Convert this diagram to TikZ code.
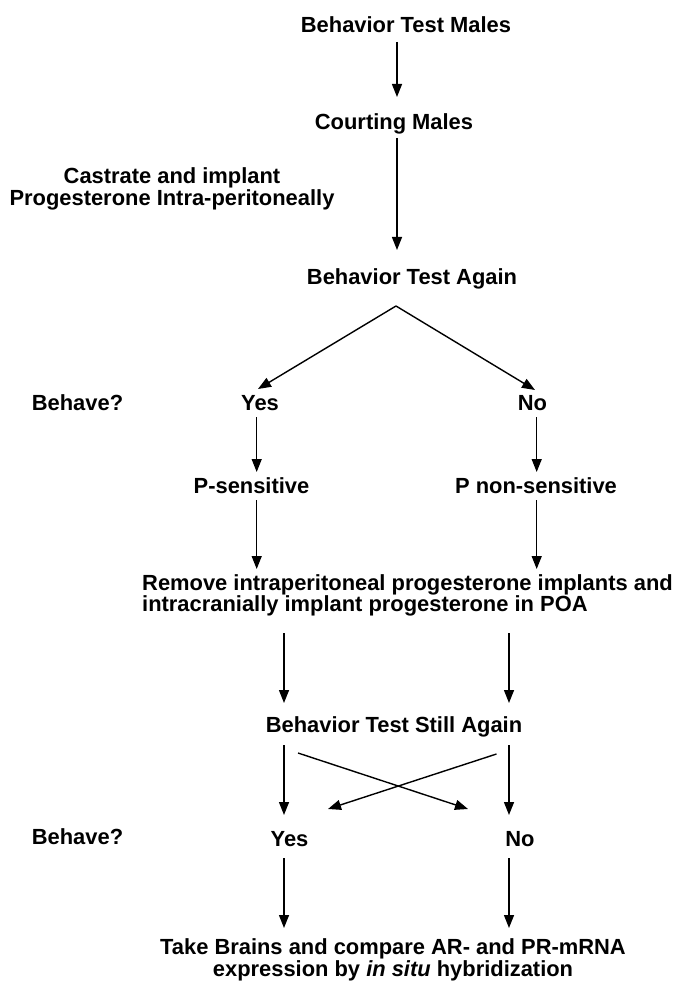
\documentclass[tikz,border=0pt]{standalone}
\usepackage{fontspec}
\setmainfont{Liberation Sans}
\usetikzlibrary{arrows.meta,calc}
\begin{document}
\begin{tikzpicture}[x=1pt,y=-1pt,
  lbl/.style={font=\bfseries\fontsize{21.9}{19}\selectfont, inner sep=0pt, align=center, text height=15.7pt, text depth=0pt},
  two/.style={font=\bfseries\fontsize{21.9}{19}\selectfont, inner sep=0pt},
  arr/.style={line width=1.4pt, -{Triangle[length=13pt,width=10pt]}}]
\useasboundingbox (0,0) rectangle (675,981);
\fill[white] (0,0) rectangle (675,981);
% labels
\node[lbl] (btm) at (406,25) {Behavior Test Males};
\node[lbl] (court) at (394,122) {Courting Males};
\node[two, align=center] (castrate) at (172,189) {Castrate and implant\\Progesterone Intra-peritoneally};
\node[lbl] (again) at (412,277) {Behavior Test Again};
\node[lbl] (behave1) at (77.5,403) {Behave?};
\node[lbl] (yes1) at (260,403) {Yes};
\node[lbl] (no1) at (532.5,403) {No};
\node[lbl] (psens) at (251.5,486) {P-sensitive};
\node[lbl] (pnon) at (536,486) {P non-sensitive};
\node[two, align=left, anchor=west] (remove) at (142,595.5) {Remove intraperitoneal progesterone implants and\\intracranially implant progesterone in POA};
\node[lbl] (still) at (394,725) {Behavior Test Still Again};
\node[lbl] (behave2) at (77.5,837) {Behave?};
\node[lbl] (yes2) at (289.5,839) {Yes};
\node[lbl] (no2) at (520,839) {No};
\node[two, align=center] (brains) at (393,960) {Take Brains and compare AR- and PR-mRNA\\expression by \textit{in situ} hybridization};
% arrows
\draw[arr] ($(btm)+(-9,17)$) -- ($(court)+(3,-25)$);
\draw[arr] ($(court)+(3,16)$) -- ($(again)+(-15,-27)$);
\draw[arr] ($(again)+(-16,29)$) -- ($(yes1)+(-2,-14)$);
\draw[arr] ($(again)+(-16,29)$) -- ($(no1)+(2.5,-13)$);
\draw[arr] ($(yes1)+(-3.3,14)$) -- ($(psens)+(5.2,-14)$);
\draw[arr] ($(no1)+(4.2,14)$) -- ($(pnon)+(0.7,-14)$);
\draw[arr] ($(psens)+(5.2,14)$) -- ($(remove.west)+(114.7,-26.5)$);
\draw[arr] ($(pnon)+(0.7,14)$) -- ($(remove.west)+(394.7,-26.5)$);
\draw[arr] ($(remove.west)+(142,37.5)$) -- ($(still)+(-110,-22)$);
\draw[arr] ($(remove.west)+(367,37.5)$) -- ($(still)+(115,-22)$);
\draw[arr] ($(still)+(-110,20)$) -- ($(yes2)+(-5.5,-24)$);
\draw[arr] ($(still)+(115,20)$) -- ($(no2)+(-11,-24)$);
\draw[arr] ($(still)+(-96,28)$) -- ($(no2)+(-52,-30)$);
\draw[arr] ($(still)+(102.5,29)$) -- ($(yes2)+(38.5,-30)$);
\draw[arr] ($(yes2)+(-5.5,19)$) -- ($(brains)+(-109,-32)$);
\draw[arr] ($(no2)+(-11,19)$) -- ($(brains)+(116,-32)$);
\end{tikzpicture}
\end{document}
